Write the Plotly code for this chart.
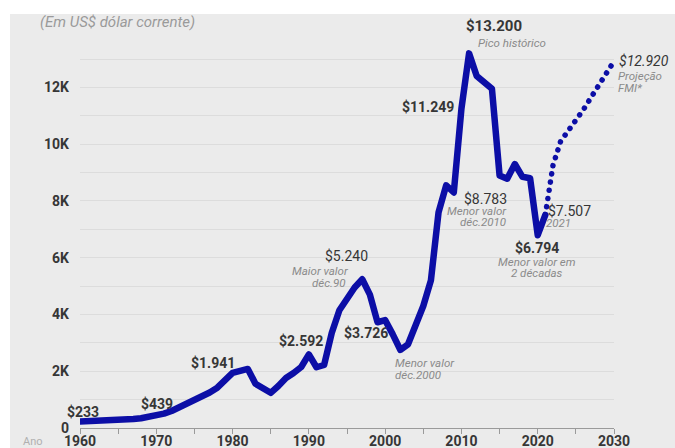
import plotly.graph_objects as go

# PIB per capita do Brasil (US$ correntes)
anos = list(range(1960, 2022))
pib = [233, 238, 245, 255, 265, 280, 295, 315, 345, 385,
       439, 505, 600, 720, 860, 950, 1100, 1250, 1420, 1650,
       1941, 2010, 2080, 1560, 1400, 1240, 1480, 1760, 1940, 2150,
       2592, 2140, 2220, 3350, 4150, 4600, 4950, 5240, 4700, 3726,
       3800, 3300, 2750, 2950, 3600, 4300, 5200, 7600, 8550, 8300,
       11249, 13200, 12400, 12200, 11950, 8900, 8783, 9300, 8850, 8800,
       6794, 7507]

# Projeção do FMI
anos_proj = list(range(2021, 2031))
pib_proj = [7507, 9250, 10100, 10450, 10800, 11220, 11650, 12070, 12500, 12920]

y_ticks = [0, 2000, 4000, 6000, 8000, 10000, 12000]
y_tick_labels = ["0", "2K", "4K", "6K", "8K", "10K", "12K"]
x_ticks = [1960, 1970, 1980, 1990, 2000, 2010, 2020, 2030]

FONT = "Roboto"
DARK = "#363636"
GRAY = "#8a8a8a"
BLUE = "#0c0ea6"
BG = "#ebebeb"
GRID = "#dcdcdc"
SUB = 11.5  # tamanho dos textos explicativos

fig = go.Figure()
fig.add_trace(go.Scatter(x=anos, y=pib, mode="lines",
                         line=dict(color=BLUE, width=6.5), hoverinfo="skip"))
fig.add_trace(go.Scatter(x=anos_proj, y=pib_proj, mode="lines",
                         line=dict(color=BLUE, width=5.5, dash="5px,4px"),
                         hoverinfo="skip"))


def valor(ano):
    if ano in anos:
        return pib[anos.index(ano)]
    return pib_proj[anos_proj.index(ano)]


def moeda(v):
    return "$" + f"{v:,}".replace(",", ".")


annotations = []


def nota(ano, texto, xanchor, dx, dy, size=14, color=DARK, bold=False, italic=False):
    if bold:
        texto = "<b>" + texto + "</b>"
    if italic:
        texto = "<i>" + texto + "</i>"
    annotations.append(dict(
        x=ano, y=valor(ano), xref="x", yref="y", text=texto, showarrow=False,
        xanchor=xanchor, yanchor="middle", xshift=dx, yshift=dy, borderpad=0,
        font=dict(family=FONT, size=size, color=color)))


nota(1960, moeda(valor(1960)), "left", -14, 9, bold=True)
nota(1970, moeda(valor(1970)), "center", 1, 12, bold=True)
nota(1980, moeda(valor(1980)), "right", 3, 10, bold=True)
nota(1990, moeda(valor(1990)), "center", -8, 13, bold=True)
nota(1997, moeda(valor(1997)), "center", -16, 23)
nota(1997, "Maior valor", "right", -12, 8, size=SUB, color=GRAY, italic=True)
nota(1997, "déc.90", "right", -15, -4, size=SUB, color=GRAY, italic=True)
nota(1999, moeda(valor(1999)), "center", -12, -11, bold=True)
nota(2002, "Menor valor", "left", -6, -13, size=SUB, color=GRAY, italic=True)
nota(2002, "déc.2000", "left", -6, -25, size=SUB, color=GRAY, italic=True)
nota(2010, moeda(valor(2010)), "right", -6, 2, bold=True)
nota(2011, moeda(valor(2011)), "left", -4, 27, size=15, bold=True)
nota(2011, "Pico histórico", "left", 8, 10, size=SUB, color=GRAY, italic=True)
nota(2016, moeda(valor(2016)), "right", 1, -20)
nota(2016, "Menor valor", "right", 1, -32, size=SUB, color=GRAY, italic=True)
nota(2016, "déc.2010", "right", 0, -43, size=SUB, color=GRAY, italic=True)
nota(2021, moeda(valor(2021)), "left", 2, 4)
nota(2021, "2021", "left", 0, -8, size=SUB, color=GRAY, italic=True)
nota(2020, moeda(valor(2020)), "center", -1, -13, bold=True)
nota(2020, "Menor valor em", "center", -1, -27, size=SUB, color=GRAY, italic=True)
nota(2020, "2 décadas", "center", -1, -38, size=SUB, color=GRAY, italic=True)
nota(2030, moeda(valor(2030)), "left", 4, 0, italic=True)
nota(2030, "Projeção", "left", 3, -15, size=SUB, color=GRAY, italic=True)
nota(2030, "FMI*", "left", 3, -27, size=SUB, color=GRAY, italic=True)

annotations.append(dict(
    x=-0.0787, y=1.0518, xref="paper", yref="paper", showarrow=False,
    xanchor="left", yanchor="middle", text="<i>(Em US$ dólar corrente)</i>",
    font=dict(family=FONT, size=15, color="#9a9a9a")))
annotations.append(dict(
    x=-0.1086, y=-0.034, xref="paper", yref="paper", showarrow=False,
    xanchor="left", yanchor="middle", text="Ano", borderpad=0,
    font=dict(family=FONT, size=11, color="#b0b0b0")))

shapes = [
    dict(type="rect", xref="paper", yref="paper", x0=-0.2, x1=1.2,
         y0=1.0725, y1=1.2, fillcolor="white", line=dict(width=0), layer="below"),
    dict(type="rect", xref="paper", yref="paper", x0=-0.2, x1=-0.1311,
         y0=-0.2, y1=1.2, fillcolor="white", line=dict(width=0), layer="below"),
]

fig.update_layout(
    width=675, height=448,
    margin=dict(l=80, r=61, t=42, b=20, autoexpand=False),
    paper_bgcolor=BG, plot_bgcolor=BG,
    showlegend=False,
    annotations=annotations,
    shapes=shapes,
    xaxis=dict(
        range=[1960, 2030], tickvals=x_ticks, showgrid=False, zeroline=False,
        showline=True, linecolor="#9a9a9a", linewidth=1,
        ticks="outside", ticklen=5, tickcolor="#9a9a9a",
        ticklabelstandoff=-5,
        tickfont=dict(family=FONT, size=14, color=DARK, weight="bold"),
        minor=dict(tickvals=[1965, 1975, 1985, 1995, 2005, 2015, 2025],
                   ticks="outside", ticklen=5, tickcolor="#9a9a9a", showgrid=False),
        automargin=False, fixedrange=True,
    ),
    yaxis=dict(
        range=[0, 13600], tickvals=y_ticks, ticktext=y_tick_labels,
        showgrid=True, gridcolor=GRID, gridwidth=1, zeroline=False, showline=False,
        ticks="", ticklabelstandoff=10,
        tickfont=dict(family=FONT, size=14, color=DARK, weight="bold"),
        minor=dict(dtick=1000, tick0=0, showgrid=True, gridcolor=GRID, gridwidth=1),
        automargin=False, fixedrange=True,
    ),
)

# pontilhado arredondado para a projeção
post = """
var gd = document.getElementById('{plot_id}');
var tr = gd.querySelectorAll('.scatterlayer .trace');
if (tr.length > 1) {
  tr[1].querySelectorAll('path.js-line').forEach(function(p) {
    p.style.strokeLinecap = 'round';
    p.style.strokeDasharray = '0.1px 8.2px';
  });
  tr[0].querySelectorAll('path.js-line').forEach(function(p) {
    p.style.strokeLinejoin = 'round';
    p.style.strokeLinecap = 'round';
  });
}
"""

fig.write_html("out.html", post_script=post, config={"displayModeBar": False})
